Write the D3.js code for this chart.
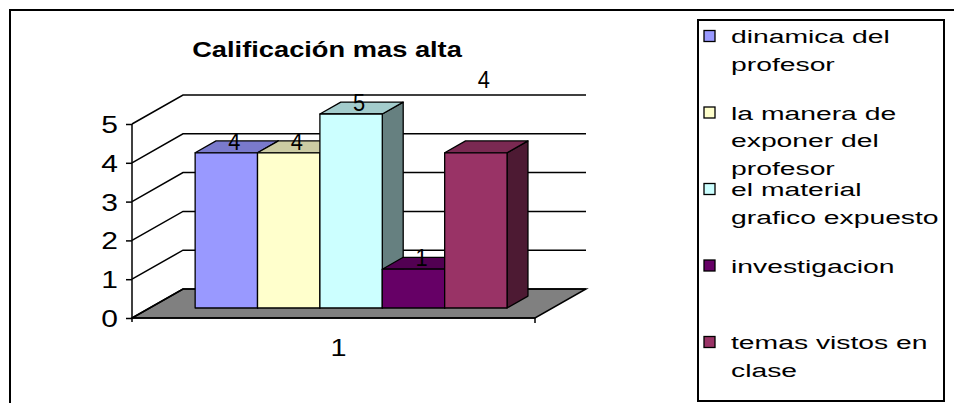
<!DOCTYPE html>
<html>
<head>
<meta charset="utf-8">
<script src="https://cdn.jsdelivr.net/npm/d3@7"></script>
<style>
  html, body { margin: 0; padding: 0; background: #ffffff; }
  svg { display: block; }
  text { font-family: "Liberation Sans", Arial, sans-serif; fill: #000; }
</style>
</head>
<body>
<svg id="chart" width="954" height="403"></svg>
<script>
// ---- data ----
const title = "Calificación mas alta";
const categories = ["1"];
const series = [
  "dinamica del profesor",
  "la manera de exponer del profesor",
  "el material grafico expuesto",
  "investigacion",
  "temas vistos en clase"
];
const values = [4, 4, 5, 1, 4];
const yTicks = [0, 1, 2, 3, 4, 5];
const legendLines = [
  ["dinamica del", "profesor"],
  ["la manera de", "exponer del", "profesor"],
  ["el material", "grafico expuesto"],
  ["investigacion"],
  ["temas vistos en", "clase"]
];
const colors = ["#9999FF", "#FFFFCC", "#CCFFFF", "#660066", "#993366"];

// ---- layout ----
const svg = d3.select("#chart");
const W = 954, H = 403;

// oblique projection: depth z in [0,1] moves up and to the right
const DX = 51, DY = 29;
const x0 = 132, x1 = 535;
const y = d3.scaleLinear().domain([0, 5]).range([318, 124]);
const xCat = d3.scaleBand().domain(categories).range([x0, x1]);
const xSer = d3.scaleBand().domain(series)
  .range([xCat(categories[0]), xCat(categories[0]) + xCat.bandwidth()])
  .paddingInner(0).paddingOuter(0.73);
const P = (x, v, z) => [x + z * DX, y(v) - z * DY];
const poly = pts => "M" + pts.map(p => p.join(",")).join("L") + "Z";
const line = pts => "M" + pts.map(p => p.join(",")).join("L");

// chart area frame (top and left edges)
svg.append("path")
  .attr("d", `M10,${H}L10,10L${W},10`)
  .attr("fill", "none").attr("stroke", "#000").attr("stroke-width", 2);

// title
svg.append("text")
  .attr("transform", "translate(327,57) scale(1.24,1)")
  .attr("text-anchor", "middle")
  .attr("font-size", 22).attr("font-weight", "bold")
  .text(title);

// floor
svg.append("path")
  .attr("d", poly([P(x0, 0, 0), P(x1, 0, 0), P(x1, 0, 1), P(x0, 0, 1)]))
  .attr("fill", "#808080").attr("stroke", "#000").attr("stroke-width", 1.5);

// back-wall gridlines with their side-wall diagonals
svg.append("g").selectAll("path").data(yTicks).join("path")
  .attr("d", v => line([P(x0, v, 0), P(x0, v, 1), P(x1, v, 1)]))
  .attr("fill", "none").attr("stroke", "#000").attr("stroke-width", 1.5);

// value axis
const yAxis = svg.append("g")
  .attr("transform", `translate(${x0},0)`)
  .call(d3.axisLeft(y).tickValues(yTicks).tickSize(6).tickSizeOuter(0).tickFormat(d3.format("d")));
yAxis.select(".domain").attr("d", `M0,${y(5)}V${y(0) + 4}`).attr("stroke", "#000").attr("stroke-width", 1.5);
yAxis.selectAll(".tick line").attr("stroke", "#000").attr("stroke-width", 1.5);
yAxis.selectAll(".tick text")
  .attr("x", null).attr("dy", null)
  .attr("transform", "translate(-14,8.5) scale(1.25,1)")
  .attr("text-anchor", "end")
  .attr("font-size", 24)
  .attr("font-family", "Liberation Sans, Arial, sans-serif")
  .attr("fill", "#000");

// category axis: front floor edge with end ticks
svg.append("path")
  .attr("d", `M${x0},${y(0)}L${x1},${y(0)}M${x1},${y(0)}V${y(0) + 5}`)
  .attr("fill", "none").attr("stroke", "#000").attr("stroke-width", 1.5);
svg.append("g").selectAll("text").data(categories).join("text")
  .attr("transform", d => `translate(${xCat(d) + xCat.bandwidth() / 2 + 5},356) scale(1.2,1)`)
  .attr("text-anchor", "middle").attr("font-size", 24)
  .text(d => d);

// 3D columns, drawn left to right so each front face hides its neighbour's side
const zf = 0.345, zb = 0.755;
const shade = (c, k) => { const r = d3.rgb(c); return d3.rgb(r.r * k, r.g * k, r.b * k).formatHex(); };
const bars = svg.append("g").selectAll("g").data(series).join("g");
bars.each(function (s, i) {
  const g = d3.select(this);
  const v = values[i];
  const bx = xSer(s), w = xSer.bandwidth();
  const faces = [
    { pts: [P(bx + w, 0, zf), P(bx + w, 0, zb), P(bx + w, v, zb), P(bx + w, v, zf)], k: 0.5 },
    { pts: [P(bx, v, zf), P(bx + w, v, zf), P(bx + w, v, zb), P(bx, v, zb)], k: 0.8 },
    { pts: [P(bx, 0, zf), P(bx + w, 0, zf), P(bx + w, v, zf), P(bx, v, zf)], k: 1 }
  ];
  g.selectAll("path").data(faces).join("path")
    .attr("d", f => poly(f.pts))
    .attr("fill", f => shade(colors[i], f.k))
    .attr("stroke", "#000").attr("stroke-width", 1.3)
    .attr("stroke-linejoin", "round");
});

// value labels (the last one sits lifted above the plot)
const labelLift = [0, 0, 0, 0, 62];
svg.append("g").selectAll("text").data(series).join("text")
  .attr("transform", (s, i) => {
    const p = P(xSer(s) + xSer.bandwidth() / 2, values[i], zf);
    return `translate(${p[0] + 8},${p[1] - 3 - labelLift[i]}) scale(0.95,1)`;
  })
  .attr("text-anchor", "middle").attr("font-size", 23)
  .text((s, i) => values[i]);

// legend
const lg = svg.append("g");
lg.append("rect")
  .attr("x", 698).attr("y", 20).attr("width", 246).attr("height", 381)
  .attr("fill", "#fff").attr("stroke", "#000").attr("stroke-width", 2);
const itemStep = 76.5, lineStep = 27.5, firstY = 36;
const items = lg.selectAll("g.item").data(series).join("g").attr("class", "item")
  .attr("transform", (s, i) => `translate(0,${firstY + i * itemStep})`);
items.append("rect")
  .attr("x", 704).attr("y", -5.5).attr("width", 11).attr("height", 11)
  .attr("fill", (s, i) => colors[i]).attr("stroke", "#000").attr("stroke-width", 1.3);
items.each(function (s, i) {
  d3.select(this).selectAll("text").data(legendLines[i]).join("text")
    .attr("transform", (t, j) => `translate(731,${j * lineStep + 7}) scale(1.49,1)`)
    .attr("font-size", 19)
    .text(t => t);
});
</script>
</body>
</html>
